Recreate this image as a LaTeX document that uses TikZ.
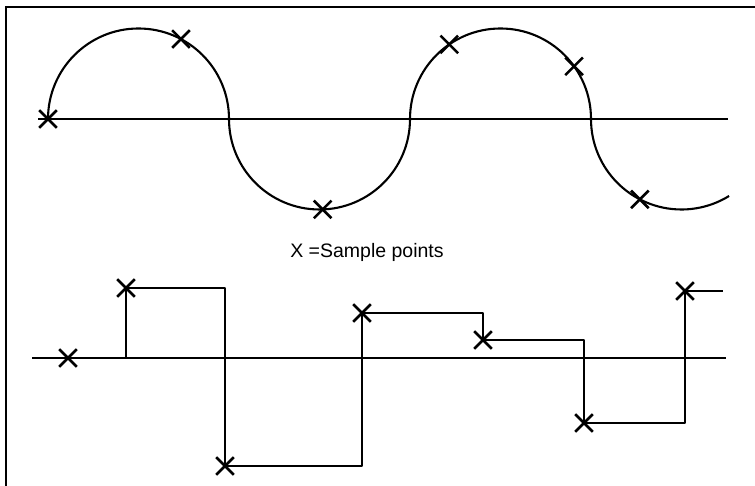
\documentclass[tikz,border=0pt]{standalone}
\usepackage{fontspec}
\setmainfont{Liberation Sans}
\usetikzlibrary{shapes.misc, calc}

\begin{document}
\begin{tikzpicture}[
    x=1pt, y=1pt,
    wave/.style={line width=2.1pt, line join=round},
    axisline/.style={line width=2.1pt},
    sample/.style={cross out, draw, line width=2.6pt, minimum size=15pt, inner sep=0pt},
]
\useasboundingbox (0,0) rectangle (755,486);

% Frame
\draw[line width=2.4pt] (6,-5) |- (765,479);

% Continuous signal
\coordinate (ua) at (38,367);
\coordinate (ub) at (728,367);
\draw[axisline] (ua) -- (ub);
\coordinate (h1) at (138.5,367);
\coordinate (h2) at (319.5,367);
\coordinate (h3) at (500.5,367);
\coordinate (h4) at (681.5,367);
\draw[wave] (48,367) arc[start angle=180, end angle=0, radius=90.5pt]
    arc[start angle=180, end angle=360, radius=90.5pt]
    arc[start angle=180, end angle=0, radius=90.5pt]
    arc[start angle=180, end angle=301.7, radius=90.5pt];

\node[sample] (p1) at (48,367) {};
\node[sample] (p2) at ($(h1)+(62:90.5pt)$) {};
\node[sample] (p3) at ($(h2)+(272:90.5pt)$) {};
\node[sample] (p4) at ($(h3)+(124.5:90.5pt)$) {};
\node[sample] (p5) at ($(h3)+(35.6:90.5pt)$) {};
\node[sample] (p6) at ($(h4)+(242.6:90.5pt)$) {};

% Legend
\node[font=\fontsize{19.5}{22}\selectfont, anchor=base] (key) at (367,228) {X =Sample points};

% Sampled signal
\coordinate (la) at (32,128);
\coordinate (lb) at (726,128);
\draw[axisline] (la) -- (lb);
\draw[wave] (126,128) |- (225,198) |- (362,20) |- (483,173) |- (584,146) |- (685,63) |- (723,195);

\foreach \n/\pos in {1/{(68,128)}, 2/{(126,198)}, 3/{(225,20)}, 4/{(362,173)}, 5/{(483,146)}, 6/{(584,63)}, 7/{(685,195)}} {
    \node[sample] (q\n) at \pos {};
}

\end{tikzpicture}
\end{document}
